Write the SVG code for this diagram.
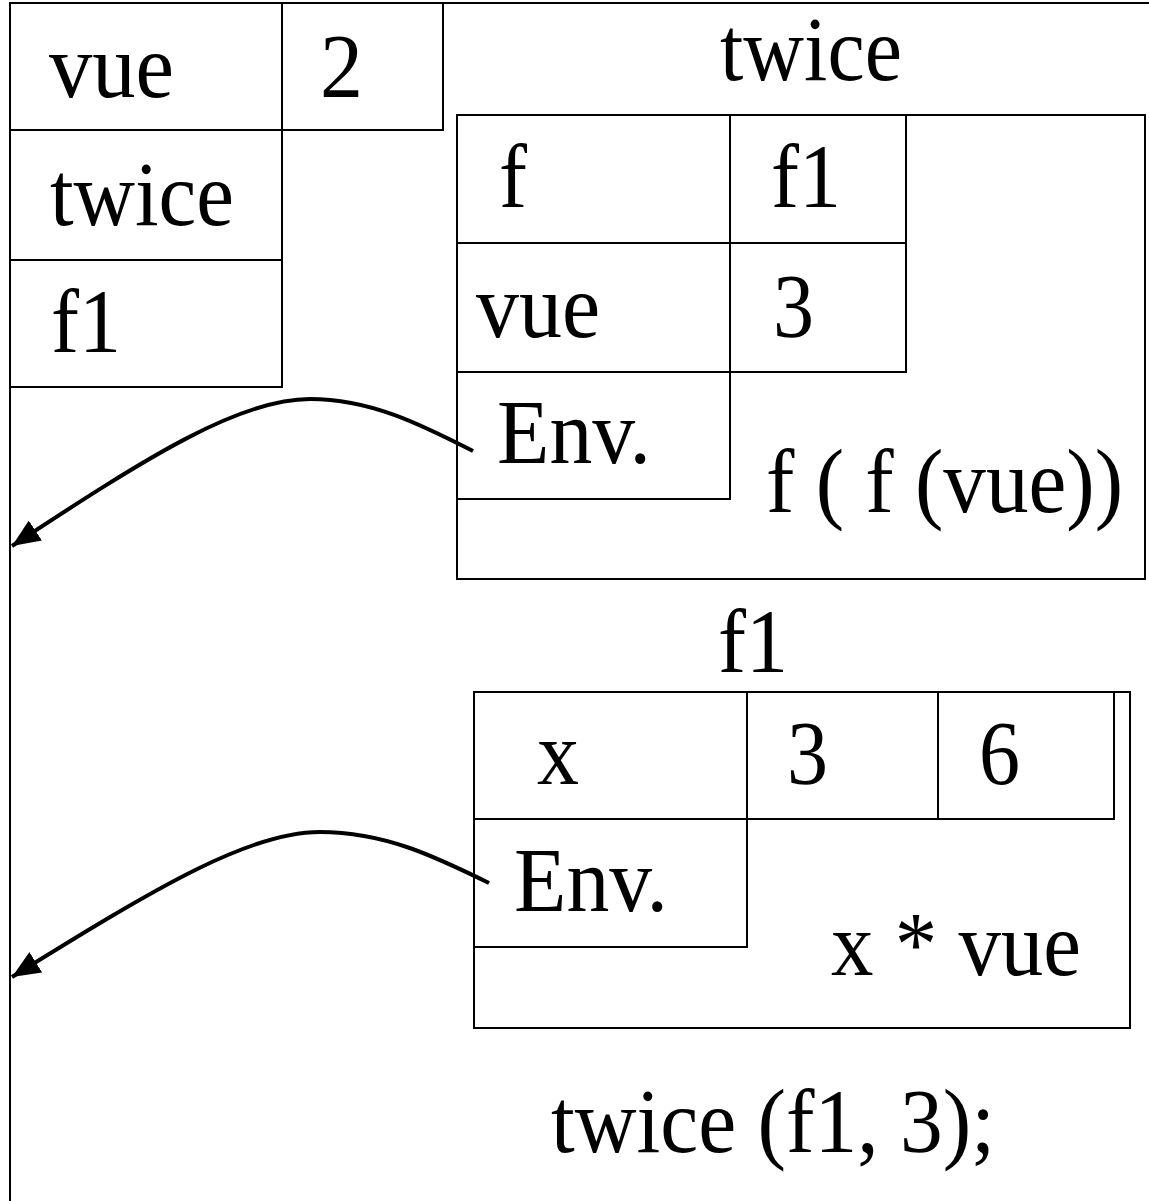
<svg xmlns="http://www.w3.org/2000/svg" width="1149" height="1201" viewBox="0 0 1149 1201">
<style>
.c{fill:none;stroke:#000;stroke-width:2}
.t{font-family:"Liberation Serif","Times New Roman",serif;font-size:92px;fill:#000}
.a{fill:none;stroke:#000;stroke-width:4}
</style>
<defs>
<marker id="ah" markerUnits="userSpaceOnUse" markerWidth="30" markerHeight="24" refX="28" refY="12" orient="auto">
<path d="M0,0 L28,12 L0,24 z" fill="#000"/>
</marker>
</defs>
<rect width="1149" height="1201" fill="#fff"/>
<g id="frame">
<line class="c" x1="10" y1="3" x2="10" y2="1201"/>
<line class="c" x1="10" y1="3" x2="1149" y2="3"/>
</g>
<g id="global-env">
<rect class="c" x="10" y="3" width="272" height="127"/>
<rect class="c" x="282" y="3" width="161" height="127"/>
<rect class="c" x="10" y="130" width="272" height="130"/>
<rect class="c" x="10" y="260" width="272" height="127"/>
<text class="t" x="49" y="97" textLength="125" lengthAdjust="spacingAndGlyphs">vue</text>
<text class="t" x="320" y="97" textLength="43" lengthAdjust="spacingAndGlyphs">2</text>
<text class="t" x="50" y="225" textLength="184" lengthAdjust="spacingAndGlyphs">twice</text>
<text class="t" x="51" y="352" textLength="70" lengthAdjust="spacingAndGlyphs">f1</text>
</g>
<g id="twice">
<text class="t" x="720" y="80" textLength="182" lengthAdjust="spacingAndGlyphs">twice</text>
<rect class="c" x="457" y="115" width="688" height="464"/>
<rect class="c" x="457" y="115" width="273" height="128"/>
<rect class="c" x="730" y="115" width="176" height="128"/>
<rect class="c" x="457" y="243" width="273" height="129"/>
<rect class="c" x="730" y="243" width="176" height="129"/>
<rect class="c" x="457" y="372" width="273" height="127"/>
<text class="t" x="499" y="207" textLength="28" lengthAdjust="spacingAndGlyphs">f</text>
<text class="t" x="771" y="207" textLength="70" lengthAdjust="spacingAndGlyphs">f1</text>
<text class="t" x="476" y="337" textLength="124" lengthAdjust="spacingAndGlyphs">vue</text>
<text class="t" x="773" y="337" textLength="41" lengthAdjust="spacingAndGlyphs">3</text>
<text class="t" x="497" y="463" textLength="154" lengthAdjust="spacingAndGlyphs">Env.</text>
<text class="t" x="766" y="512" textLength="357" lengthAdjust="spacingAndGlyphs">f ( f (vue))</text>
</g>
<g id="f1">
<text class="t" x="718" y="672" textLength="70" lengthAdjust="spacingAndGlyphs">f1</text>
<rect class="c" x="474" y="692" width="656" height="336"/>
<rect class="c" x="474" y="692" width="273" height="127"/>
<rect class="c" x="747" y="692" width="191" height="127"/>
<rect class="c" x="938" y="692" width="176" height="127"/>
<rect class="c" x="474" y="819" width="273" height="128"/>
<text class="t" x="537" y="784" textLength="42" lengthAdjust="spacingAndGlyphs">x</text>
<text class="t" x="787" y="784" textLength="41" lengthAdjust="spacingAndGlyphs">3</text>
<text class="t" x="979" y="784" textLength="41" lengthAdjust="spacingAndGlyphs">6</text>
<text class="t" x="514" y="911" textLength="154" lengthAdjust="spacingAndGlyphs">Env.</text>
<text class="t" x="831" y="975" textLength="250" lengthAdjust="spacingAndGlyphs">x * vue</text>
</g>
<g id="call">
<text class="t" x="551" y="1152" textLength="444" lengthAdjust="spacingAndGlyphs">twice (f1, 3);</text>
</g>
<g id="connectors">
<path class="a" d="M473,451 C420,424 370,399 310,399 C240,399 150,455 12,546" marker-end="url(#ah)"/>
<path class="a" d="M489,883 C436,857 385,832 320,832 C250,832 160,885 12,977" marker-end="url(#ah)"/>
</g>
</svg>
